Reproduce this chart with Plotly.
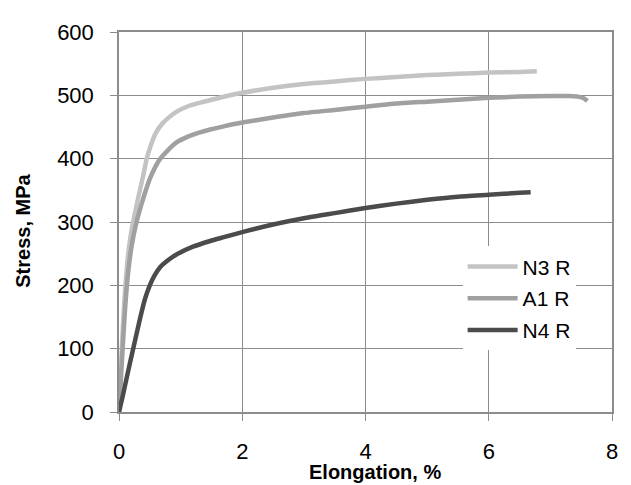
import plotly.graph_objects as go

# N3 R
n3_x = [0, 0.04, 0.09, 0.15, 0.2, 0.25, 0.32, 0.39, 0.45, 0.52, 0.6, 0.7, 0.82, 0.95, 1.1, 1.3, 1.5, 1.75,
        2.0, 2.5, 3.0, 3.5, 4.0, 4.5, 5.0, 5.5, 6.0, 6.5, 6.78]
n3_y = [0, 90, 180, 250, 285, 310, 342, 372, 400, 422, 441, 455, 466, 475, 482, 488, 493, 499,
        504, 512, 518, 522, 526, 529, 532, 534, 536, 537, 538]

# A1 R
a1_x = [0, 0.05, 0.1, 0.15, 0.21, 0.28, 0.39, 0.5, 0.6, 0.67, 0.8, 0.94, 1.1, 1.3, 1.48, 1.7,
        2.0, 2.5, 3.0, 3.5, 4.0, 4.5, 5.0, 5.5, 6.0, 6.5, 7.0, 7.3, 7.45, 7.55, 7.6]
a1_y = [0, 85, 165, 222, 265, 298, 336, 368, 389, 400, 414, 426, 434, 441, 446, 451,
        457, 465, 472, 477, 482, 487, 490, 493, 496, 498, 499, 499, 498, 495, 491]

# N4 R
n4_x = [0, 0.06, 0.125, 0.23, 0.34, 0.42, 0.5, 0.58, 0.67, 0.8, 0.94, 1.2, 1.48, 1.7,
        2.0, 2.5, 3.0, 3.5, 4.0, 4.5, 5.0, 5.5, 6.0, 6.5, 6.68]
n4_y = [0, 25, 54, 100, 147, 178, 200, 216, 229, 240, 249, 261, 270, 276,
        284, 296, 306, 314, 322, 329, 335, 340, 343, 346, 347]

x_ticks = [0, 2, 4, 6, 8]
y_ticks = [0, 100, 200, 300, 400, 500, 600]

series = [
    ("N3 R", n3_x, n3_y, "#c3c3c3"),
    ("A1 R", a1_x, a1_y, "#a0a0a0"),
    ("N4 R", n4_x, n4_y, "#4b4b4b"),
]

fig = go.Figure()
for i, (name, xs, ys, col) in enumerate(series):
    fig.add_trace(go.Scatter(
        x=xs, y=ys, mode="lines", name=name, legendgroup=f"g{i}",
        line=dict(color=col, width=4.5, shape="spline", smoothing=0.5),
    ))

grid_col = "#8c8c8c"
font_family = "Liberation Sans, Arial, sans-serif"

# page body has an 8px margin, so the figure is drawn 8px smaller and offset
L, T = 111, 14
fig.update_layout(
    width=623, height=477,
    margin=dict(l=L, r=19, t=T, b=73),
    paper_bgcolor="white", plot_bgcolor="white",
    font=dict(family=font_family, size=21, color="black"),
    showlegend=True,
    legend=dict(
        x=0.697, y=0.436, xanchor="left", yanchor="top",
        bgcolor="white", borderwidth=0,
        font=dict(family=font_family, size=21, color="black"),
        tracegroupgap=1.5, itemwidth=50,
    ),
    xaxis=dict(
        range=[0, 8], tickvals=x_ticks, ticktext=[str(v) for v in x_ticks],
        showgrid=True, gridcolor=grid_col, gridwidth=1.3,
        showline=True, linecolor=grid_col, linewidth=1.5, mirror=True,
        ticks="outside", ticklen=7, tickcolor=grid_col, tickwidth=1.3,
        zeroline=False, tickfont=dict(size=22), ticklabelstandoff=12,
    ),
    yaxis=dict(
        range=[0, 600], tickvals=y_ticks, ticktext=[str(v) for v in y_ticks],
        showgrid=True, gridcolor=grid_col, gridwidth=1.3,
        showline=True, linecolor=grid_col, linewidth=1.5, mirror=True,
        ticks="outside", ticklen=7, tickcolor=grid_col, tickwidth=1.3,
        zeroline=False, tickfont=dict(size=22), ticklabelstandoff=12,
    ),
    annotations=[
        dict(text="<b>Elongation, %</b>", xref="paper", yref="paper",
             x=(375 - 119) / 493, y=-(474 - 412) / 390, xanchor="center", yanchor="middle",
             showarrow=False, font=dict(family=font_family, size=20, color="black")),
        dict(text="<b>Stress, MPa</b>", xref="paper", yref="paper",
             x=-(119 - 23) / 493, y=(412 - 226) / 390, xanchor="center", yanchor="middle",
             textangle=-90, showarrow=False,
             font=dict(family=font_family, size=20, color="black")),
    ],
)

fig.write_html("out.html")
